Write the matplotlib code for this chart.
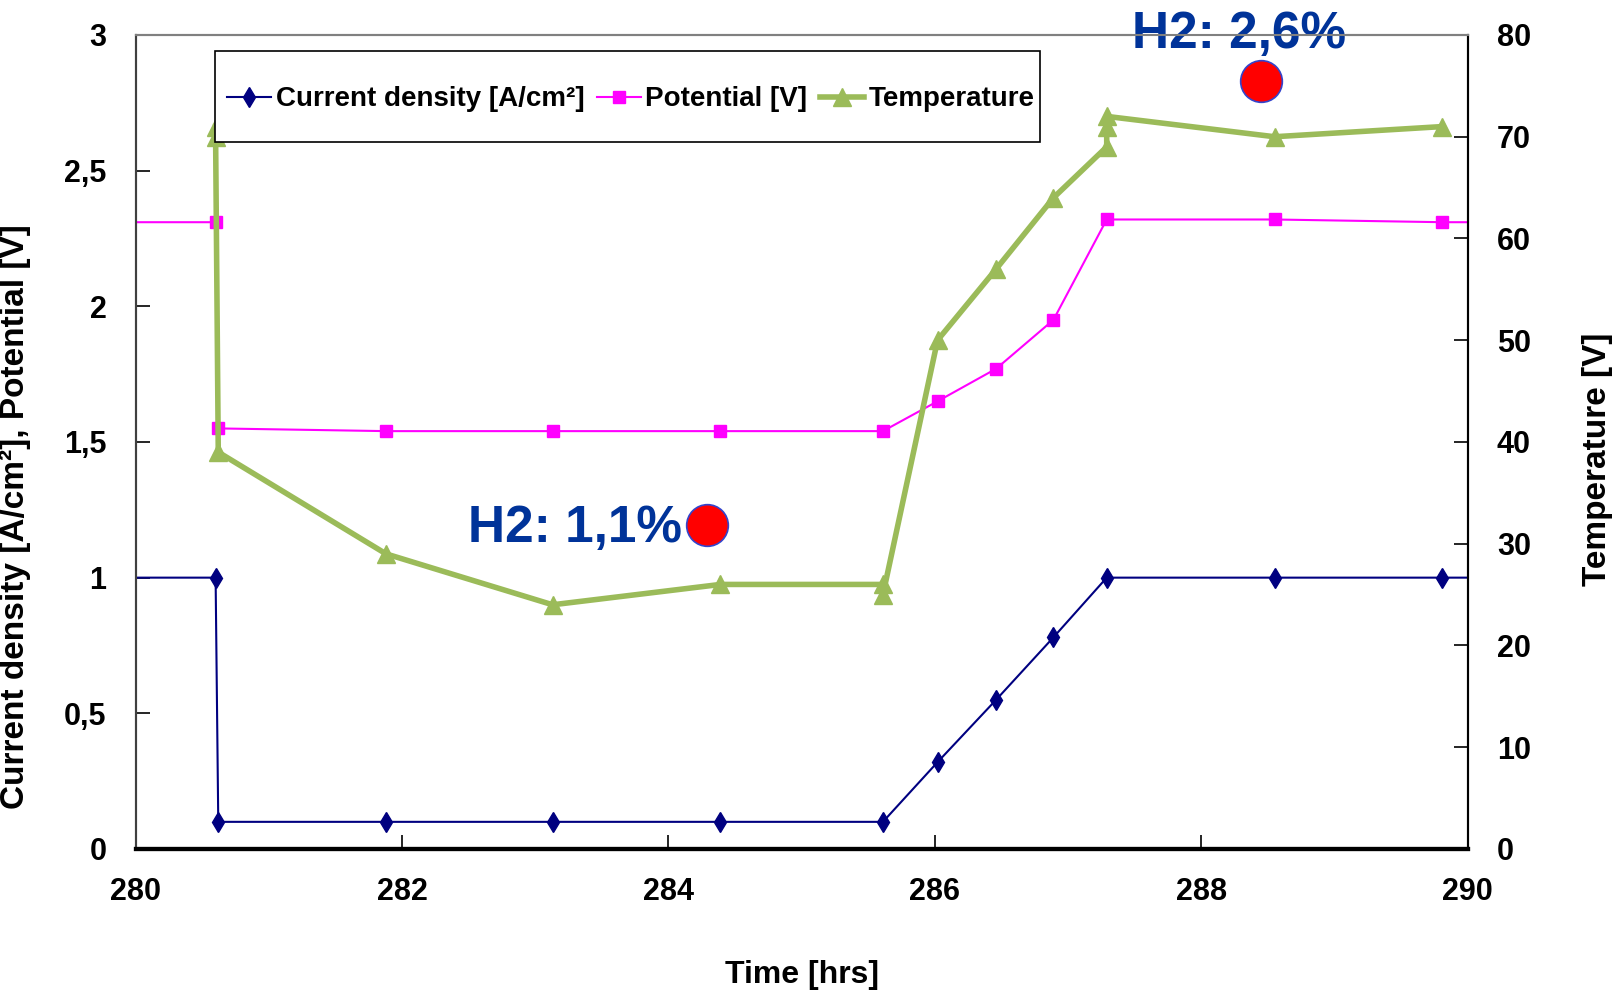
import matplotlib.pyplot as plt
from matplotlib.patches import Rectangle

plt.rcParams['font.family'] = ['Liberation Sans', 'DejaVu Sans']
plt.rcParams['font.weight'] = 'bold'

# data
time_cd = [279.4, 280.6, 280.62, 281.88, 283.13, 284.39, 285.61, 286.02, 286.46, 286.89, 287.29, 288.55, 289.81, 291.0]
current_density = [1.0, 1.0, 0.1, 0.1, 0.1, 0.1, 0.1, 0.32, 0.55, 0.78, 1.0, 1.0, 1.0, 1.0]

time_pot = [279.4, 280.6, 280.62, 281.88, 283.13, 284.39, 285.61, 286.02, 286.46, 286.89, 287.29, 288.55, 289.81, 291.0]
potential = [2.31, 2.31, 1.55, 1.54, 1.54, 1.54, 1.54, 1.65, 1.77, 1.95, 2.32, 2.32, 2.31, 2.31]

time_temp = [280.6, 280.6, 280.62, 281.88, 283.13, 284.39, 285.61, 285.61, 286.02, 286.46, 286.89, 287.29, 287.29, 287.29, 288.55, 289.81]
temperature = [71, 70, 39, 29, 24, 26, 26, 25, 50, 57, 64, 69, 71, 72, 70, 71]

h2_labels = ["H2: 1,1%", "H2: 2,6%"]
h2_text_pos = [(283.30, 1.18), (288.28, 3.0)]
h2_dot_pos = [(284.29, 1.195), (288.45, 2.83)]

navy = "#000080"
magenta = "#FF00FF"
green = "#9BBB59"
blue_txt = "#003399"

fig = plt.figure(figsize=(16.23, 9.94), dpi=100)
ax = fig.add_axes([0.0836, 0.1459, 0.8207, 0.8189])
ax2 = ax.twinx()

l1, = ax.plot(time_cd, current_density, color=navy, lw=1.5, marker="d", ms=10,
              label="Current density [A/cm²]")
l2, = ax.plot(time_pot, potential, color=magenta, lw=1.5, marker="s", ms=8,
              label="Potential [V]")
l3, = ax2.plot(time_temp, temperature, color=green, lw=4, marker="^", ms=13,
               label="Temperature")

ax.set_xlim(280, 290)
ax.set_ylim(0, 3)
ax2.set_ylim(0, 80)
ax.set_xticks([280, 282, 284, 286, 288, 290])
ax.set_yticks([0, 0.5, 1, 1.5, 2, 2.5, 3])
ax.set_yticklabels(["0", "0,5", "1", "1,5", "2", "2,5", "3"])
ax2.set_yticks(range(0, 81, 10))

ax.tick_params(axis="both", direction="in", length=10, width=1.2, labelsize=22, pad=21)
ax.tick_params(axis="x", pad=20)
ax2.tick_params(axis="y", direction="in", length=10, width=1.2, labelsize=22, pad=21)

ax.set_xlabel("Time [hrs]", fontsize=23, fontweight="bold", labelpad=38)
ax.set_ylabel("Current density [A/cm²], Potential [V]", fontsize=24, fontweight="bold")
ax.yaxis.set_label_coords(-0.0785, 0.408)
ax2.set_ylabel("Temperature [V]", fontsize=24, fontweight="bold")
ax2.yaxis.set_label_coords(1.086, 0.479)

for a in (ax, ax2):
    a.spines["top"].set_color("#808080")
    a.spines["left"].set_color("#404040")
    a.spines["right"].set_color("black")
    a.spines["bottom"].set_color("black")
    a.spines["bottom"].set_linewidth(3)
    a.spines["left"].set_linewidth(1.5)
    a.spines["right"].set_linewidth(1.5)
    a.spines["top"].set_linewidth(1.5)

# legend box drawn separately so it can be taller than the text row
ax2.add_patch(Rectangle((0.0598, 0.869), 0.6192, 0.111, transform=ax2.transAxes,
                        facecolor="white", edgecolor="black", lw=1.2, zorder=4))
leg = ax2.legend(handles=[l1, l2, l3], loc="center left", bbox_to_anchor=(0.0685, 0.921),
                 ncol=3, fontsize=20, frameon=False,
                 handlelength=1.6, handletextpad=0.15, columnspacing=0.45,
                 borderpad=0, borderaxespad=0)
leg.set_zorder(5)

for lab, (tx, ty), (dx, dy) in zip(h2_labels, h2_text_pos, h2_dot_pos):
    ax.text(tx, ty, lab, fontsize=37, fontweight="bold", color=blue_txt,
            ha="center", va="center", clip_on=False, zorder=5,
            bbox=dict(facecolor="white", edgecolor="none", pad=0) if ty >= 3 else None)
    ax.plot([dx], [dy], marker="o", ms=30, color="red", mec="#3344cc", mew=1.2,
            zorder=6, clip_on=False)

fig.savefig("out.png", dpi=100)
